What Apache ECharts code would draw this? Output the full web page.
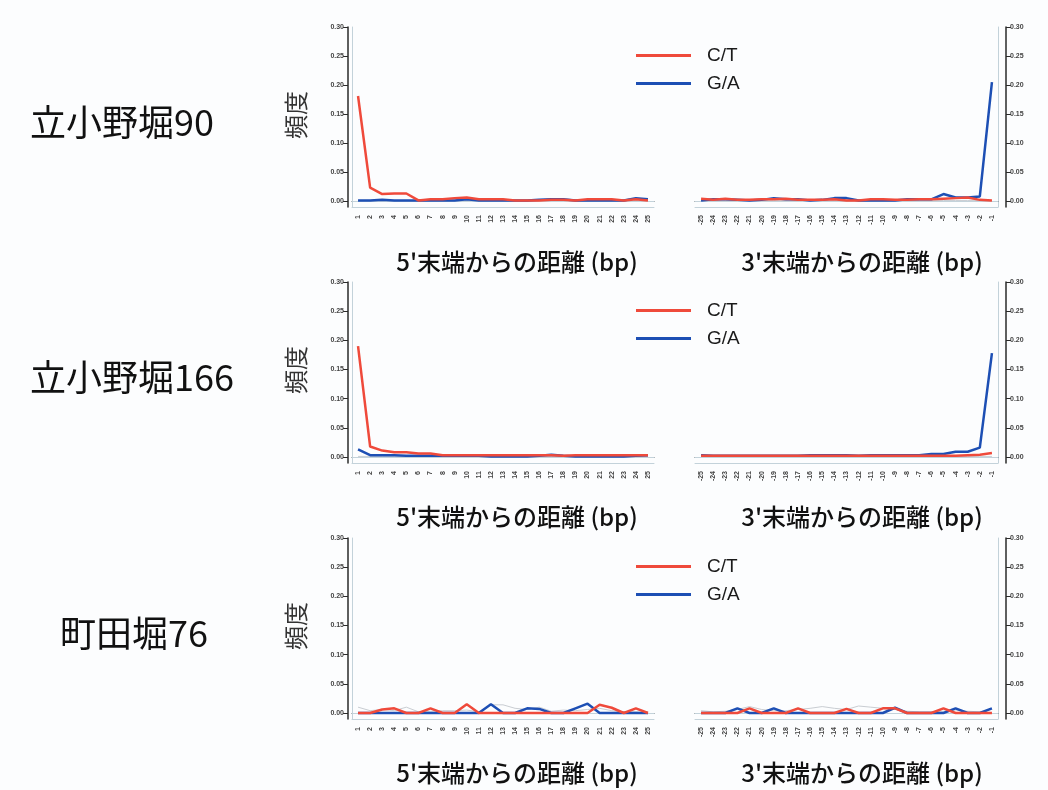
<!DOCTYPE html>
<html>
<head>
<meta charset="utf-8">
<script src="https://cdn.jsdelivr.net/npm/echarts@6/dist/echarts.min.js"></script>
<style>
  html, body { margin: 0; padding: 0; background: #fcfdfe; }
  #chart { width: 1048px; height: 790px; }
</style>
</head>
<body>
<div id="chart"></div>
<script>
// positions
const pos5 = Array.from({ length: 25 }, (_, i) => String(i + 1));
const pos3 = Array.from({ length: 25 }, (_, i) => String(i - 25));
const yTicks = [0, 0.05, 0.10, 0.15, 0.20, 0.25, 0.30];

const sampleNames = ["立小野堀90", "立小野堀166", "町田堀76"];

// 立小野堀90
const ct5_90 = [0.181, 0.023, 0.012, 0.013, 0.013, 0.001, 0.003, 0.003, 0.005, 0.006, 0.003, 0.003, 0.003, 0.001, 0.001, 0.001, 0.002, 0.002, 0.001, 0.003, 0.003, 0.003, 0.001, 0.003, 0.001];
const ga5_90 = [0.001, 0.001, 0.002, 0.001, 0.001, 0.001, 0.001, 0.001, 0.001, 0.003, 0.001, 0.001, 0.001, 0.001, 0.001, 0.002, 0.003, 0.003, 0.001, 0.001, 0.001, 0.001, 0.001, 0.005, 0.003];
const ot5_90 = [0.001, 0.001, 0.001, 0.001, 0.001, 0.001, 0.001, 0.001, 0.001, 0.001, 0.001, 0.001, 0.001, 0.001, 0.001, 0.001, 0.001, 0.001, 0.001, 0.001, 0.001, 0.001, 0.001, 0.001, 0.001];
const ct3_90 = [0.004, 0.002, 0.004, 0.002, 0.002, 0.003, 0.003, 0.004, 0.002, 0.002, 0.002, 0.003, 0.001, 0.001, 0.003, 0.003, 0.002, 0.002, 0.003, 0.003, 0.004, 0.005, 0.006, 0.002, 0.001];
const ga3_90 = [0.001, 0.003, 0.003, 0.002, 0.001, 0.002, 0.005, 0.003, 0.003, 0.001, 0.002, 0.005, 0.005, 0.001, 0.001, 0.001, 0.001, 0.003, 0.003, 0.003, 0.012, 0.006, 0.006, 0.008, 0.205];
const ot3_90 = [0.001, 0.001, 0.001, 0.001, 0.001, 0.001, 0.001, 0.001, 0.001, 0.001, 0.001, 0.001, 0.001, 0.001, 0.001, 0.001, 0.001, 0.001, 0.001, 0.001, 0.001, 0.001, 0.001, 0.001, 0.001];

// 立小野堀166
const ct5_166 = [0.190, 0.018, 0.011, 0.008, 0.008, 0.006, 0.006, 0.003, 0.003, 0.003, 0.003, 0.003, 0.003, 0.003, 0.003, 0.003, 0.003, 0.002, 0.003, 0.003, 0.003, 0.003, 0.003, 0.003, 0.003];
const ga5_166 = [0.013, 0.003, 0.003, 0.003, 0.002, 0.002, 0.002, 0.002, 0.002, 0.002, 0.002, 0.001, 0.001, 0.001, 0.001, 0.002, 0.004, 0.002, 0.001, 0.001, 0.001, 0.001, 0.001, 0.002, 0.003];
const ot5_166 = [0.001, 0.001, 0.001, 0.001, 0.001, 0.001, 0.001, 0.001, 0.001, 0.001, 0.001, 0.001, 0.001, 0.001, 0.001, 0.001, 0.001, 0.001, 0.001, 0.001, 0.001, 0.001, 0.001, 0.001, 0.001];
const ct3_166 = [0.002, 0.002, 0.002, 0.002, 0.002, 0.002, 0.002, 0.002, 0.002, 0.002, 0.002, 0.002, 0.002, 0.002, 0.002, 0.002, 0.002, 0.002, 0.002, 0.002, 0.002, 0.002, 0.003, 0.004, 0.007];
const ga3_166 = [0.003, 0.002, 0.002, 0.002, 0.002, 0.002, 0.002, 0.002, 0.002, 0.003, 0.003, 0.003, 0.003, 0.002, 0.003, 0.003, 0.003, 0.003, 0.003, 0.005, 0.005, 0.009, 0.009, 0.016, 0.178];
const ot3_166 = [0.001, 0.001, 0.001, 0.001, 0.001, 0.001, 0.001, 0.001, 0.001, 0.001, 0.001, 0.001, 0.001, 0.001, 0.001, 0.001, 0.001, 0.001, 0.001, 0.001, 0.001, 0.001, 0.001, 0.001, 0.001];

// 町田堀76
const ct5_76 = [0, 0, 0.006, 0.008, 0, 0, 0.008, 0, 0, 0.015, 0, 0, 0, 0, 0, 0, 0, 0, 0, 0, 0.014, 0.009, 0, 0.008, 0];
const ga5_76 = [0, 0, 0, 0, 0, 0, 0, 0, 0, 0, 0, 0.015, 0, 0, 0.008, 0.007, 0, 0, 0.008, 0.016, 0, 0, 0, 0, 0];
const ot5_76 = [0.010, 0.004, 0.006, 0.004, 0.010, 0.002, 0.003, 0.004, 0.004, 0.005, 0.002, 0.014, 0.014, 0.008, 0.006, 0.010, 0.003, 0.005, 0.004, 0.006, 0.008, 0.004, 0.002, 0.002, 0];
const ct3_76 = [0, 0, 0, 0, 0.008, 0, 0, 0, 0.008, 0, 0, 0, 0.007, 0, 0, 0.008, 0.008, 0, 0, 0, 0.008, 0, 0, 0, 0];
const ga3_76 = [0, 0, 0, 0.008, 0, 0, 0.008, 0, 0, 0, 0, 0, 0, 0, 0, 0, 0.009, 0, 0, 0, 0, 0.008, 0, 0, 0.008];
const ot3_76 = [0.004, 0.002, 0.003, 0.006, 0.011, 0.006, 0.004, 0.004, 0.006, 0.008, 0.011, 0.008, 0.006, 0.012, 0.010, 0.008, 0.006, 0.003, 0.002, 0.002, 0.003, 0.005, 0.003, 0.002, 0];

const panels = [
  [ct5_90, ga5_90, ot5_90, ct3_90, ga3_90, ot3_90],
  [ct5_166, ga5_166, ot5_166, ct3_166, ga3_166, ot3_166],
  [ct5_76, ga5_76, ot5_76, ct3_76, ga3_76, ot3_76]
];

// layout
const rowTop = [27, 282, 538];
const rowH = [180, 181, 181];
const yMin = -0.0103;
const RED = "#ef4a3b";
const BLUE = "#1d4fb4";
const GRAY = "#c9cdd2";
const FRAME = "#c3d2da";
const AXIS = "#2a2a2a";
const FONT = "'Noto Sans CJK JP', 'Noto Sans', sans-serif";

const grid = [], xAxis = [], yAxis = [], series = [], legend = [], graphic = [];

function lineSeries(name, color, width, data, xi, yi, z) {
  return {
    name: name, type: "line", data: data, xAxisIndex: xi, yAxisIndex: yi,
    symbol: "none", color: color, z: z,
    lineStyle: { color: color, width: width }
  };
}

for (let r = 0; r < 3; r++) {
  for (let s = 0; s < 2; s++) {
    const g = grid.length;
    const isLeft = s === 0;
    grid.push(isLeft
      ? { left: 352, width: 302, top: rowTop[r], height: rowH[r] }
      : { left: 695, width: 303, top: rowTop[r], height: rowH[r] });
    const cats = isLeft ? pos5 : pos3;

    const xi = xAxis.length;
    xAxis.push({
      gridIndex: g, type: "category", data: cats, boundaryGap: true,
      position: "bottom", offset: 5,
      axisLine: { lineStyle: { color: AXIS, width: 1 } },
      axisTick: { alignWithLabel: true, length: 4, lineStyle: { color: AXIS } },
      axisLabel: { rotate: 90, fontSize: 7, fontWeight: "bold", color: "#444", margin: 3, interval: 0, fontFamily: "Liberation Sans" },
      splitLine: { show: false }
    });
    // light plot frame
    xAxis.push({
      gridIndex: g, type: "category", data: cats, position: "top",
      axisLine: { lineStyle: { color: FRAME, width: 1 } },
      axisTick: { show: false }, axisLabel: { show: false }
    });
    xAxis.push({
      gridIndex: g, type: "category", data: cats, position: "bottom", offset: 0,
      axisLine: { lineStyle: { color: FRAME, width: 1 } },
      axisTick: { show: false }, axisLabel: { show: false }
    });

    const yi = yAxis.length;
    yAxis.push({
      gridIndex: g, type: "value", min: yMin, max: 0.30,
      position: isLeft ? "left" : "right", offset: isLeft ? 4 : 8,
      axisLine: { show: true, lineStyle: { color: AXIS, width: 1.5 } },
      axisTick: { show: true, length: 5, customValues: yTicks, lineStyle: { color: AXIS } },
      axisLabel: {
        customValues: yTicks, fontSize: 7, fontWeight: "bold", color: "#444", margin: 4,
        fontFamily: "Liberation Sans",
        formatter: v => v.toFixed(2)
      },
      splitLine: { show: false }
    });
    yAxis.push({
      gridIndex: g, type: "value", min: yMin, max: 0.30,
      position: isLeft ? "left" : "right", offset: 0,
      axisLine: { show: true, lineStyle: { color: FRAME, width: 1 } },
      axisTick: { show: false }, axisLabel: { show: false }, splitLine: { show: false }
    });

    const d = panels[r];
    const base = isLeft ? 0 : 3;
    series.push(lineSeries("other", GRAY, 1, d[base + 2], xi, yi, 2));
    series.push(lineSeries("G/A", BLUE, 2.5, d[base + 1], xi, yi, 3));
    series.push(lineSeries("C/T", RED, 2.5, d[base], xi, yi, 4));
  }

  legend.push({
    data: ["C/T", "G/A"], orient: "vertical", left: 631, top: rowTop[r] + 14,
    icon: "rect", itemWidth: 55, itemHeight: 3, itemGap: 9,
    selectedMode: false,
    textStyle: { fontSize: 19, color: "#1a1a1a", fontFamily: "Liberation Sans", padding: [0, 0, 0, 11] }
  });

  // sample label
  graphic.push({
    type: "text", x: r === 2 ? 60 : 30, y: rowTop[r] + 95,
    style: {
      text: sampleNames[r], font: "36px " + FONT, fill: "#111",
      textAlign: "left", textVerticalAlign: "middle", align: "left", verticalAlign: "middle"
    }
  });
  // y title
  graphic.push({
    type: "text", x: 296, y: rowTop[r] + 88, rotation: Math.PI / 2,
    style: {
      text: "頻度", font: "24px " + FONT, fill: "#333",
      textAlign: "center", textVerticalAlign: "middle", align: "center", verticalAlign: "middle"
    }
  });
  // x titles
  const ty = rowTop[r] + 235;
  graphic.push({
    type: "text", x: 517, y: ty,
    style: {
      text: "5'末端からの距離 (bp)", font: "500 24px " + FONT, fill: "#111",
      textAlign: "center", textVerticalAlign: "middle", align: "center", verticalAlign: "middle"
    }
  });
  graphic.push({
    type: "text", x: 862, y: ty,
    style: {
      text: "3'末端からの距離 (bp)", font: "500 24px " + FONT, fill: "#111",
      textAlign: "center", textVerticalAlign: "middle", align: "center", verticalAlign: "middle"
    }
  });
}

const chart = echarts.init(document.getElementById("chart"));
chart.setOption({
  backgroundColor: "#fcfdfe",
  animation: false,
  grid: grid,
  xAxis: xAxis,
  yAxis: yAxis,
  legend: legend,
  series: series,
  graphic: graphic
});
</script>
</body>
</html>
